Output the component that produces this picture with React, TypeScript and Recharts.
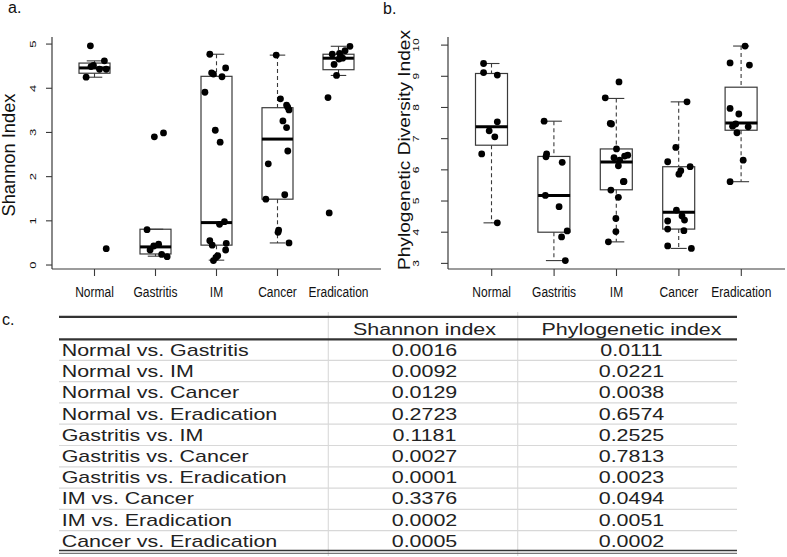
import { Bar, ComposedChart, Scatter, XAxis, YAxis } from "recharts";

const FONT = "'Liberation Sans', Arial, sans-serif";
const LINE = "#3a3a3a";

const categories = ["Normal", "Gastritis", "IM", "Cancer", "Eradication"];

// a. Shannon index - box stats
const shannonQ1 = [4.34, 0.25, 0.45, 1.49, 4.42];
const shannonMed = [4.46, 0.41, 0.96, 2.85, 4.68];
const shannonQ3 = [4.57, 0.81, 4.27, 3.56, 4.77];
const shannonLo = [4.25, 0.2, 0.11, 0.5, 4.29];
const shannonHi = [4.62, 0.81, 4.77, 4.75, 4.95];

// a. Shannon index - samples (value, horizontal jitter)
const shannonNormal = [4.96, 4.25, 4.52, 4.49, 4.43, 4.62, 4.43, 0.37];
const shannonNormalJit = [-0.07, -0.14, -0.02, -0.06, 0.08, 0.16, 0.19, 0.19];
const shannonGastritis = [2.9, 2.99, 0.8, 0.34, 0.43, 0.47, 0.24, 0.19];
const shannonGastritisJit = [-0.02, 0.13, -0.14, -0.09, -0.03, 0.05, 0.1, 0.19];
const shannonIM = [4.77, 4.35, 4.32, 4.46, 4.26, 3.91, 3.05, 2.78, 0.92, 0.98, 0.55, 0.45, 0.49, 0.34, 0.21, 0.17, 0.1];
const shannonIMJit = [-0.11, -0.08, -0.05, 0.15, 0.09, -0.19, -0.02, 0.06, 0.05, 0.13, -0.11, -0.07, 0.16, 0.15, 0.02, -0.01, -0.05];
const shannonCancer = [4.75, 3.76, 3.62, 3.57, 3.51, 3.26, 3.11, 2.58, 2.29, 1.49, 1.59, 0.79, 0.74, 0.5];
const shannonCancerJit = [-0.02, 0.05, 0.15, 0.17, 0.19, 0.09, 0.15, 0.17, -0.15, -0.19, 0.12, 0.02, 0.01, 0.19];
const shannonErad = [4.95, 4.85, 4.77, 4.79, 4.71, 4.68, 4.66, 4.54, 4.29, 3.79, 1.18];
const shannonEradJit = [0.19, 0.11, -0.1, 0.02, 0.04, 0.07, 0.01, -0.07, -0.03, -0.17, -0.15];

// b. Phylogenetic diversity - box stats
const phyloQ1 = [6.79, 4.0, 5.36, 4.1, 7.27];
const phyloMed = [7.38, 5.18, 6.25, 4.64, 7.5];
const phyloQ3 = [9.09, 6.43, 6.67, 6.1, 8.65];
const phyloLo = [4.3, 3.09, 3.69, 3.48, 5.62];
const phyloHi = [9.41, 7.56, 8.29, 8.18, 9.97];

// b. Phylogenetic diversity - samples
const phyloNormal = [9.41, 9.12, 9.04, 7.54, 7.25, 7.06, 6.51, 4.3];
const phyloNormalJit = [-0.13, -0.13, 0.09, 0.09, -0.04, 0.05, -0.16, 0.09];
const phyloGastritis = [7.56, 6.51, 6.42, 6.24, 5.18, 4.82, 4.04, 3.85, 3.09];
const phyloGastritisJit = [-0.16, -0.12, -0.13, 0.13, -0.14, 0.08, 0.21, 0.12, 0.18];
const phyloIM = [8.82, 8.31, 7.49, 7.47, 6.67, 6.47, 6.44, 6.39, 6.31, 6.13, 5.62, 5.63, 5.35, 5.12, 4.44, 4.02, 3.69];
const phyloIMJit = [0.04, -0.18, -0.1, -0.08, 0, 0.18, 0.13, -0.04, 0.05, 0.03, 0.11, 0.12, -0.09, 0.03, -0.01, -0.01, -0.13];
const phyloCancer = [8.18, 6.72, 6.26, 6.1, 5.97, 5.86, 4.71, 4.52, 4.39, 4.36, 4.1, 4.05, 3.56, 3.48];
const phyloCancerJit = [0.13, -0.05, -0.18, 0.18, 0.03, 0, -0.04, 0.05, 0.09, -0.18, -0.18, 0.08, -0.18, 0.2];
const phyloErad = [9.97, 9.43, 9.36, 7.97, 7.79, 7.4, 7.47, 7.38, 7.19, 6.31, 5.62];
const phyloEradJit = [0.06, -0.18, 0.13, -0.18, -0.04, -0.14, -0.09, 0.11, -0.07, 0.03, -0.18];

// c. p-values table
const comparisons = [
  "Normal vs. Gastritis",
  "Normal vs. IM",
  "Normal vs. Cancer",
  "Normal vs. Eradication",
  "Gastritis vs. IM",
  "Gastritis vs. Cancer",
  "Gastritis vs. Eradication",
  "IM vs. Cancer",
  "IM vs. Eradication",
  "Cancer vs. Eradication",
];
const shannonP = ["0.0016", "0.0092", "0.0129", "0.2723", "0.1181", "0.0027", "0.0001", "0.3376", "0.0002", "0.0005"];
const phyloP = ["0.0111", "0.0221", "0.0038", "0.6574", "0.2525", "0.7813", "0.0023", "0.0494", "0.0051", "0.0002"];

const buildBoxes = (q1: number[], med: number[], q3: number[], lo: number[], hi: number[]) =>
  categories.map((name, i) => ({
    pos: i + 1,
    name,
    box: [q1[i], q3[i]],
    lower: [lo[i], q1[i]],
    upper: [q3[i], hi[i]],
    med: med[i],
  }));

const buildPoints = (vals: number[][], jit: number[][]) =>
  vals.flatMap((g, i) => g.map((v, j) => ({ pos: i + 1 + jit[i][j], val: v })));

const shannonBoxes = buildBoxes(shannonQ1, shannonMed, shannonQ3, shannonLo, shannonHi);
const shannonPoints = buildPoints(
  [shannonNormal, shannonGastritis, shannonIM, shannonCancer, shannonErad],
  [shannonNormalJit, shannonGastritisJit, shannonIMJit, shannonCancerJit, shannonEradJit]
);
const phyloBoxes = buildBoxes(phyloQ1, phyloMed, phyloQ3, phyloLo, phyloHi);
const phyloPoints = buildPoints(
  [phyloNormal, phyloGastritis, phyloIM, phyloCancer, phyloErad],
  [phyloNormalJit, phyloGastritisJit, phyloIMJit, phyloCancerJit, phyloEradJit]
);

const span = (p: any) => {
  const top = Math.min(p.y, p.y + p.height);
  const bottom = Math.max(p.y, p.y + p.height);
  return { top, bottom, cx: p.x + p.width / 2, cap: p.width / 4 };
};

const boxShape = (p: any) => {
  const { top, bottom } = span(p);
  return <rect x={p.x} y={top} width={p.width} height={bottom - top} fill="none" stroke={LINE} strokeWidth={1.2} />;
};

const upperShape = (p: any) => {
  const { top, bottom, cx, cap } = span(p);
  return (
    <g stroke={LINE} strokeWidth={1.1}>
      <line x1={cx} x2={cx} y1={top} y2={bottom} strokeDasharray="4 3" />
      <line x1={cx - cap} x2={cx + cap} y1={top} y2={top} />
    </g>
  );
};

const lowerShape = (p: any) => {
  const { top, bottom, cx, cap } = span(p);
  return (
    <g stroke={LINE} strokeWidth={1.1}>
      <line x1={cx} x2={cx} y1={top} y2={bottom} strokeDasharray="4 3" />
      <line x1={cx - cap} x2={cx + cap} y1={bottom} y2={bottom} />
    </g>
  );
};

const dotShape = (p: any) => <circle cx={p.cx} cy={p.cy} r={3.4} fill="#000" />;

const XTick = (props: any) => {
  const { x, y, payload } = props;
  return (
    <g transform={`translate(${x},${y})`}>
      <text x={0} y={20.7} textAnchor="middle" fontSize={15} fill="#111" fontFamily={FONT} transform="scale(0.8,1)">
        {payload.value}
      </text>
    </g>
  );
};

const makeYTick = (fontSize: number, squash: number, shift: number) => (props: any) => {
  const { x, y, payload } = props;
  return (
    <text
      transform={`translate(${x - shift},${y}) rotate(-90) scale(1,${squash})`}
      textAnchor="middle"
      fontSize={fontSize}
      fill="#111"
      fontFamily={FONT}
    >
      {payload.value}
    </text>
  );
};

interface PanelProps {
  left: number;
  width: number;
  yAxisWidth: number;
  rightMargin: number;
  pad: number;
  boxWidth: number;
  tickSize: number;
  yDomain: [number, number];
  yTicks: number[];
  yTick: (p: any) => any;
  boxes: any[];
  points: any[];
}

function BoxPanel(props: PanelProps) {
  const { boxWidth } = props;
  const medShape = (p: any) => (
    <line x1={p.cx - boxWidth / 2} x2={p.cx + boxWidth / 2} y1={p.cy} y2={p.cy} stroke="#000" strokeWidth={3} />
  );
  return (
    <div style={{ position: "absolute", left: props.left, top: 0 }}>
      <ComposedChart
        width={props.width}
        height={300}
        data={props.boxes}
        margin={{ top: 37, right: props.rightMargin, bottom: 0, left: 0 }}
        barGap={-boxWidth}
      >
        <XAxis
          xAxisId="cat"
          dataKey="name"
          type="category"
          padding={{ left: props.pad, right: props.pad }}
          interval={0}
          height={31}
          tickSize={7}
          tickMargin={0}
          tick={XTick}
          axisLine={{ stroke: LINE, strokeWidth: 1.2 }}
          tickLine={{ stroke: LINE, strokeWidth: 1.1 }}
        />
        <XAxis xAxisId="num" dataKey="pos" type="number" domain={[0.3, 5.7]} allowDataOverflow hide />
        <YAxis
          type="number"
          domain={props.yDomain}
          ticks={props.yTicks}
          interval={0}
          allowDataOverflow
          width={props.yAxisWidth}
          tickSize={props.tickSize}
          tickMargin={0}
          tick={props.yTick}
          axisLine={{ stroke: LINE, strokeWidth: 1.2 }}
          tickLine={{ stroke: LINE, strokeWidth: 1.1 }}
        />
        <Bar xAxisId="cat" dataKey="upper" barSize={boxWidth} shape={upperShape} isAnimationActive={false} />
        <Bar xAxisId="cat" dataKey="lower" barSize={boxWidth} shape={lowerShape} isAnimationActive={false} />
        <Bar xAxisId="cat" dataKey="box" barSize={boxWidth} shape={boxShape} isAnimationActive={false} />
        <Scatter xAxisId="num" data={props.boxes} dataKey="med" shape={medShape} isAnimationActive={false} />
        <Scatter xAxisId="num" data={props.points} dataKey="val" shape={dotShape} isAnimationActive={false} />
      </ComposedChart>
    </div>
  );
}

const SX = 1.34;

function Overlay() {
  const rowBase = 356;
  const rowStep = 21.2;
  return (
    <svg width={787} height={557} style={{ position: "absolute", left: 0, top: 0 }} fontFamily={FONT}>
      <text x={8} y={13} fontSize={16} fill="#111">a.</text>
      <text x={383} y={14} fontSize={16} fill="#111">b.</text>
      <text x={2} y={325} fontSize={16} fill="#111">c.</text>

      <text transform="translate(15,155) rotate(-90)" textAnchor="middle" fontSize={18} fill="#111" textLength={123} lengthAdjust="spacingAndGlyphs">
        Shannon Index
      </text>
      <text transform="translate(410,150) rotate(-90)" textAnchor="middle" fontSize={16} fill="#111" textLength={240} lengthAdjust="spacingAndGlyphs">
        Phylogenetic Diversity Index
      </text>

      {/* table rules */}
      <line x1={328.3} x2={328.3} y1={312} y2={556} stroke="#dcdcdc" strokeWidth={1.2} />
      <line x1={517.7} x2={517.7} y1={312} y2={556} stroke="#dcdcdc" strokeWidth={1.2} />
      {comparisons.slice(0, -1).map((_, i) => (
        <line key={i} x1={59} x2={737} y1={360.3 + i * 21.3} y2={360.3 + i * 21.3} stroke="#d8d8d8" strokeWidth={1.2} />
      ))}
      <line x1={59} x2={737} y1={316.8} y2={316.8} stroke="#333" strokeWidth={2.2} />
      <line x1={59} x2={737} y1={339.3} y2={339.3} stroke="#333" strokeWidth={2.2} />
      <line x1={59} x2={737} y1={550.5} y2={550.5} stroke="#333" strokeWidth={1.6} />
      <line x1={59} x2={737} y1={553.3} y2={553.3} stroke="#555" strokeWidth={1} />

      <g transform={`scale(${SX},1)`} fontSize={16} fill="#222">
        <text x={424.5 / SX} y={335} textAnchor="middle">Shannon index</text>
        <text x={631.5 / SX} y={335} textAnchor="middle">Phylogenetic index</text>
        {comparisons.map((c, i) => (
          <g key={c}>
            <text x={61.7 / SX} y={rowBase + i * rowStep}>{c}</text>
            <text x={424.5 / SX} y={rowBase + i * rowStep} textAnchor="middle">{shannonP[i]}</text>
            <text x={631.5 / SX} y={rowBase + i * rowStep} textAnchor="middle">{phyloP[i]}</text>
          </g>
        ))}
      </g>
    </svg>
  );
}

export default function App() {
  return (
    <div style={{ position: "absolute", left: 0, top: 0, width: 787, height: 557, background: "#fff", overflow: "hidden" }}>
      <Overlay />
      <BoxPanel
        left={0}
        width={390}
        yAxisWidth={52}
        rightMargin={9}
        pad={12}
        boxWidth={31}
        tickSize={6}
        yDomain={[-0.09, 5.16]}
        yTicks={[0, 1, 2, 3, 4, 5]}
        yTick={makeYTick(13, 0.7, 10.25)}
        boxes={shannonBoxes}
        points={shannonPoints}
      />
      <BoxPanel
        left={390}
        width={397}
        yAxisWidth={58}
        rightMargin={2}
        pad={12.5}
        boxWidth={32}
        tickSize={7}
        yDomain={[2.82, 10.26]}
        yTicks={[3, 4, 5, 6, 7, 8, 9, 10]}
        yTick={makeYTick(12, 0.68, 22)}
        boxes={phyloBoxes}
        points={phyloPoints}
      />
    </div>
  );
}
